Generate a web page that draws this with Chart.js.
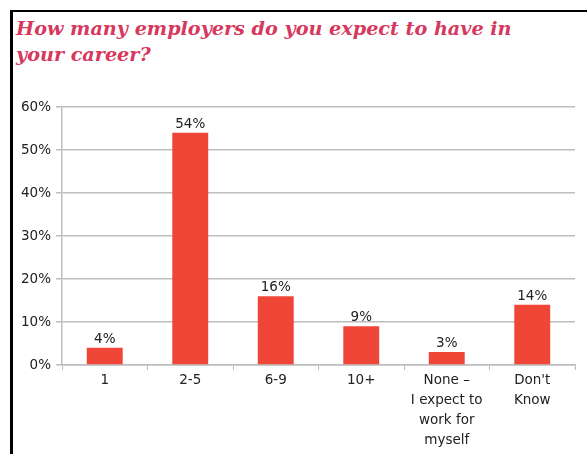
<!DOCTYPE html>
<html>
<head>
<meta charset="utf-8">
<script src="https://cdn.jsdelivr.net/npm/chart.js@4"></script>
<style>
  html, body { margin: 0; padding: 0; background: #fff; }
  body { width: 587px; height: 454px; position: relative; overflow: hidden; }
  .frame {
    position: absolute; left: 10px; top: 10px; width: 600px; height: 460px;
    border-top: 2px solid #000; border-left: 3px solid #000;
  }
  h1 {
    position: absolute; left: 16px; top: 16px; margin: 0;
    font: italic bold 19.2px "DejaVu Serif", serif;
    line-height: 26px; color: #d6385e;
  }
  .wrap { position: absolute; left: 0; top: 90px; width: 587px; height: 364px; }
</style>
</head>
<body>
<div class="frame"></div>
<h1>How many employers do you expect to have in<br>your career?</h1>
<div class="wrap"><canvas id="chart"></canvas></div>
<script>
const categories = ['1', '2-5', '6-9', '10+', ['None –', 'I expect to', 'work for', 'myself'], ["Don't", 'Know']];
const shares = [4, 54, 16, 9, 3, 14];
const yTicks = [0, 10, 20, 30, 40, 50, 60];

const TEXT = '#222';
const GRID = '#bdbdbd';
const BAR = '#ef4638';
const FONT = '"DejaVu Sans", sans-serif';

// writes the percentage above each bar
const valueLabels = {
  id: 'valueLabels',
  afterDatasetsDraw(chart) {
    const { ctx } = chart;
    const meta = chart.getDatasetMeta(0);
    ctx.save();
    ctx.font = '13.5px ' + FONT;
    ctx.fillStyle = TEXT;
    ctx.textAlign = 'center';
    ctx.textBaseline = 'bottom';
    meta.data.forEach((bar, i) => {
      ctx.fillText(shares[i] + '%', bar.x, bar.y - 2);
    });
    ctx.restore();
  }
};

new Chart(document.getElementById('chart'), {
  type: 'bar',
  data: {
    labels: categories,
    datasets: [{
      data: shares,
      backgroundColor: BAR,
      categoryPercentage: 1,
      barPercentage: 0.42
    }]
  },
  options: {
    responsive: true,
    maintainAspectRatio: false,
    animation: false,
    layout: { padding: { top: 17, right: 12, left: 0, bottom: 0 } },
    plugins: {
      legend: { display: false },
      tooltip: { enabled: false }
    },
    scales: {
      x: {
        afterFit(scale) { scale.height = 89; },
        grid: { drawOnChartArea: false, drawTicks: true, tickLength: 5, color: GRID, offset: true },
        border: { color: GRID, width: 1.5 },
        ticks: {
          color: TEXT,
          padding: 1,
          maxRotation: 0,
          autoSkip: false,
          font: { family: FONT, size: 13.5, lineHeight: 1.48 }
        }
      },
      y: {
        min: 0,
        max: 60,
        afterFit(scale) { scale.width = 62; },
        afterBuildTicks(scale) { scale.ticks = yTicks.map(v => ({ value: v })); },
        grid: { color: GRID, lineWidth: 1.5, tickLength: 6 },
        border: { color: GRID, width: 1.5 },
        ticks: {
          color: TEXT,
          padding: 5,
          callback: v => v + '%',
          font: { family: FONT, size: 13.5 }
        }
      }
    }
  },
  plugins: [valueLabels]
});
</script>
</body>
</html>
